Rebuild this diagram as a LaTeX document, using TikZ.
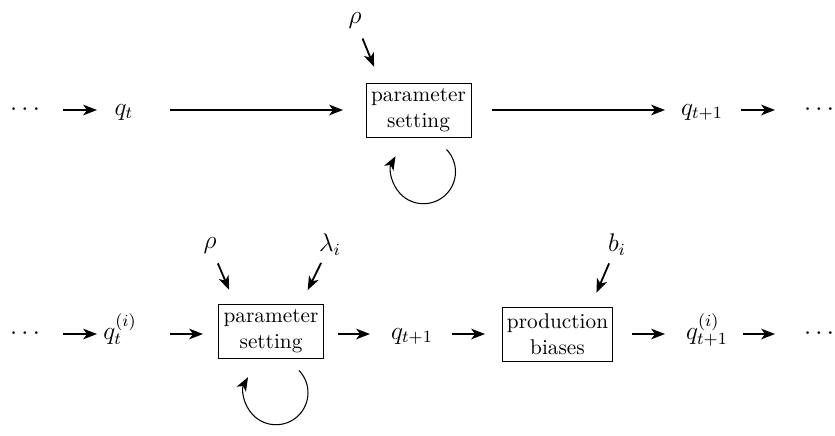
\documentclass[tikz,border=0pt]{standalone}
\usetikzlibrary{arrows.meta}
\usetikzlibrary{positioning}
\newlength{\pxu}
\setlength{\pxu}{0.47pt}
\tikzset{
	arr/.style = {-{Stealth[length=6.5pt, width=5pt, inset=1.8pt]}, line width=0.85pt},
	loopy/.style = {-{Stealth[length=6.5pt, width=5pt, inset=1.8pt]}, line width=0.5pt},
	sh/.style 2 args = {shorten <=#1\pxu, shorten >=#2\pxu},
	stage/.style = {draw, line width=0.45pt, align=center, inner sep=2pt,
		minimum width=105\pxu, minimum height=54\pxu, font=\normalsize},
	lab/.style = {inner sep=0pt, text height=1.6ex, text depth=0.5ex, font=\large},
	inlab/.style = {inner sep=0pt, font=\large}
}
\newcommand{\selfloop}[1]{\draw[loopy] ([shift={(28,12)}]#1.south)
					arc[start angle=-44, end angle=209, radius=32];}

\begin{document}
\begin{tikzpicture}[x=0.47pt, y=-0.47pt]
					\useasboundingbox (0,0) rectangle (835,435);

					% one learner
					\node[lab] (dotsA) at (25,110) {$\cdots$};
					\node[lab] (qa) at (124,110) {$q_t$};
					\node[stage] (ps0) at (418.5,110) {parameter\\setting};
					\node[lab] (qb) at (702,110) {$q_{t+1}$};
					\node[lab] (dotsB) at (819,110) {$\cdots$};
					\node[inlab] (rho0) at (355,20) {$\rho$};

					\draw[arr, sh={38}{27}] (dotsA.center) -- (qa.center);
					\draw[arr, sh={46}{75.5}] (qa.center) -- (ps0.center);
					\draw[arr, sh={73.5}{37}] (ps0.center) -- (qb.center);
					\draw[arr, sh={39}{44}] (qb.center) -- (dotsB.center);
					\draw[arr, sh={20}{17}] (rho0.center) -- ([xshift=-38\pxu]ps0.north);
					\selfloop{ps0}

					% several learners, learner i
					\node[lab] (dotsC) at (25,334) {$\cdots$};
					\node[lab] (qc) at (120,334) {$q_t^{(i)}$};
					\node[stage] (ps1) at (271,331) {parameter\\setting};
					\node[lab] (qd) at (412,334) {$q_{t+1}$};
					\node[stage] (pb) at (557.5,334) {production\\biases};
					\node[lab] (qe) at (707,334) {$q_{t+1}^{(i)}$};
					\node[lab] (dotsD) at (819,334) {$\cdots$};
					\node[inlab] (rho1) at (210,245) {$\rho$};
					\node[inlab] (lam) at (330,245) {$\lambda_i$};
					\node[inlab] (bi) at (617,245) {$b_i$};

					\draw[arr, sh={38}{23}] (dotsC.center) -- (qc.center);
					\draw[arr, sh={50}{68}] (qc.center) -- (ps1.center |- qc.center);
					\draw[arr, sh={67}{42}] (ps1.center |- qd.center) -- (qd.center);
					\draw[arr, sh={40}{72.5}] (qd.center) -- (pb.center);
					\draw[arr, sh={74.5}{42}] (pb.center) -- (qe.center);
					\draw[arr, sh={36}{44}] (qe.center) -- (dotsD.center);
					\draw[arr, sh={20}{15}] (rho1.center) -- ([xshift=-36\pxu]ps1.north);
					\draw[arr, sh={20}{15}] (lam.center) -- ([xshift=30\pxu]ps1.north);
					\draw[arr, sh={20}{15}] (bi.center) -- ([xshift=33\pxu]pb.north);
					\selfloop{ps1}

				\end{tikzpicture}
\end{document}
